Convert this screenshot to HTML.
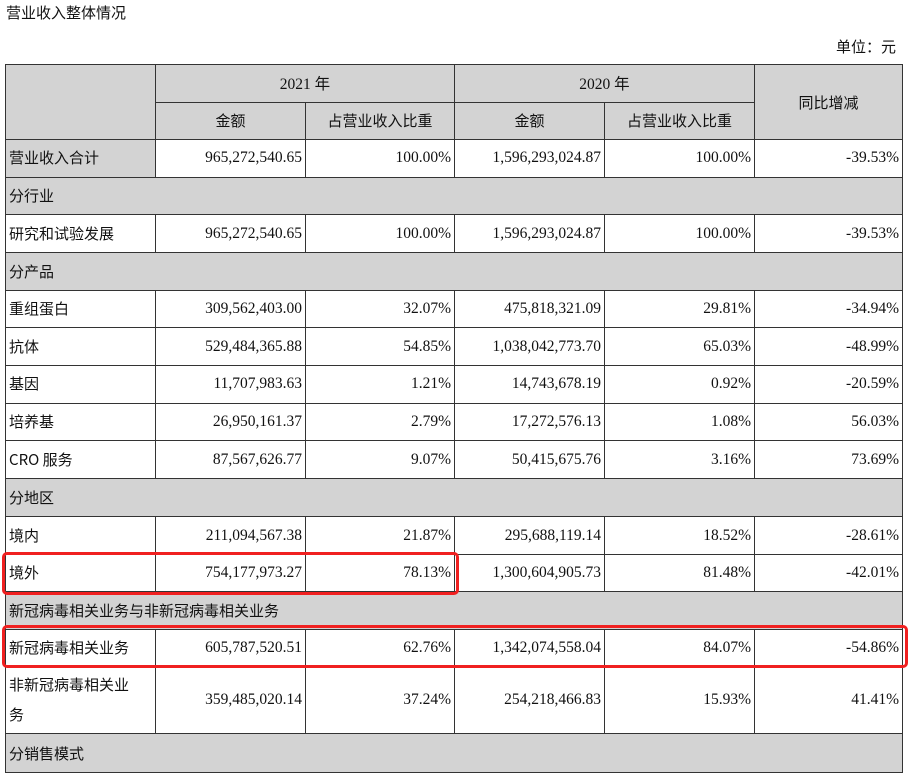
<!DOCTYPE html>
<html style="width:913px;height:774px;overflow:hidden"><head><meta charset="utf-8"><style>
body{margin:0;width:913px;height:774px;background:#fff;position:relative;overflow:hidden;font-family:"Liberation Serif","Noto Sans CJK SC",serif;color:#111;font-size:15.5px}
.t{position:absolute;white-space:nowrap}
.c{position:absolute;box-sizing:border-box;border:1px solid #333;display:flex;align-items:center;padding:0 3px}
.g{background:#d3d3d3}
.r{justify-content:flex-end}
.m{justify-content:center}
.cj{font-family:"Noto Sans CJK SC",sans-serif;font-size:15px}
.box{position:absolute;border:3px solid #f02020;border-radius:5px;box-sizing:border-box}
</style></head><body>
<div class="t cj" style="left:6px;top:2px;">营业收入整体情况</div>
<div class="t cj" style="left:836px;top:36px;">单位：元</div>
<div id="tb"></div>
<div class="box" style="left:2px;top:552px;width:457px;height:43px"></div>
<div class="box" style="left:2px;top:625px;width:906px;height:43px"></div>
<script>
var X=[5,155,305,454,604,754,902];
var Y=[64,101.5,139,176.5,214,252,289.5,327,365,402.5,440,478,516,554,591,629,666,733,772,810];
var h='';
function cell(x1,x2,y1,y2,txt,cls){h+='<div class="c '+cls+'" style="left:'+x1+'px;top:'+y1+'px;width:'+(x2-x1+1)+'px;height:'+(y2-y1+1)+'px">'+txt+'</div>';}
cell(X[0],X[1],Y[0],Y[2],'','g');
cell(X[1],X[3],Y[0],Y[1],'2021 年','g m');
cell(X[3],X[5],Y[0],Y[1],'2020 年','g m');
cell(X[5],X[6],Y[0],Y[2],'<span class="cj">同比增减</span>','g m');
['金额','占营业收入比重','金额','占营业收入比重'].forEach(function(s,i){cell(X[i+1],X[i+2],Y[1],Y[2],'<span class="cj">'+s+'</span>','g m');});
var rows=[
['营业收入合计','965,272,540.65','100.00%','1,596,293,024.87','100.00%','-39.53%'],
['分行业'],
['研究和试验发展','965,272,540.65','100.00%','1,596,293,024.87','100.00%','-39.53%'],
['分产品'],
['重组蛋白','309,562,403.00','32.07%','475,818,321.09','29.81%','-34.94%'],
['抗体','529,484,365.88','54.85%','1,038,042,773.70','65.03%','-48.99%'],
['基因','11,707,983.63','1.21%','14,743,678.19','0.92%','-20.59%'],
['培养基','26,950,161.37','2.79%','17,272,576.13','1.08%','56.03%'],
['CRO 服务','87,567,626.77','9.07%','50,415,675.76','3.16%','73.69%'],
['分地区'],
['境内','211,094,567.38','21.87%','295,688,119.14','18.52%','-28.61%'],
['境外','754,177,973.27','78.13%','1,300,604,905.73','81.48%','-42.01%'],
['新冠病毒相关业务与非新冠病毒相关业务'],
['新冠病毒相关业务','605,787,520.51','62.76%','1,342,074,558.04','84.07%','-54.86%'],
['非新冠病毒相关业<br>务','359,485,020.14','37.24%','254,218,466.83','15.93%','41.41%'],
['分销售模式']
];
rows.forEach(function(r,i){var y1=Y[i+2],y2=Y[i+3];
 if(r.length==1){cell(X[0],X[6],y1,y2,'<span class="cj">'+r[0]+'</span>','g');return;}
 cell(X[0],X[1],y1,y2,'<span class="cj" style="white-space:normal;line-height:30px">'+r[0]+'</span>',i==0?'g':'');
 for(var k=1;k<6;k++)cell(X[k],X[k+1],y1,y2,r[k],'r');
});
document.getElementById('tb').innerHTML=h;
</script>
</body></html>
